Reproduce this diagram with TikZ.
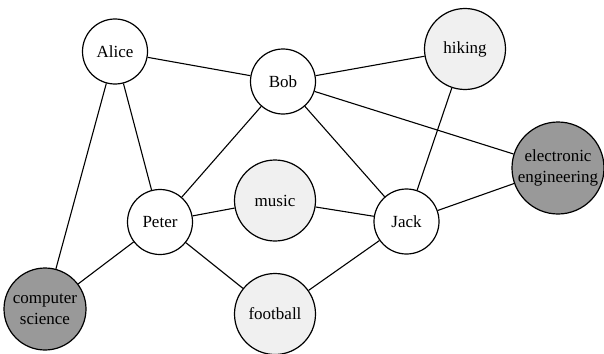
\documentclass[tikz,border=0pt]{standalone}
\usepackage{fontspec}
\setmainfont{Liberation Serif}
\begin{document}
\begin{tikzpicture}[x=1pt,y=-1pt,
  base/.style={circle,draw=black,line width=1.2pt,inner sep=0pt,align=center,
    font=\rmfamily\fontsize{17}{21}\selectfont},
  person/.style={base,fill=white,minimum size=65pt},
  hobby/.style={base,fill=black!6,minimum size=81pt},
  field/.style={base,fill=black!40,minimum size=82pt},
  link/.style={line width=1.1pt}]
\useasboundingbox (0,0) rectangle (604,353);
\node[person] (alice) at (115,51.5) {Alice};
\node[person] (bob) at (283,81.5) {Bob};
\node[hobby] (hiking) at (465,49) {hiking};
\node[field,minimum size=92pt] (ee) at (558,168) {electronic\\engineering};
\node[person] (peter) at (160,222) {Peter};
\node[hobby] (music) at (275,200.5) {music};
\node[person] (jack) at (406.5,221.5) {Jack};
\node[field] (cs) at (45,309) {computer\\science};
\node[hobby] (football) at (275,314) {football};
\draw[link] (alice) -- (bob);
\draw[link] (alice) -- (peter);
\draw[link] (alice) -- (cs);
\draw[link] (bob) -- (hiking);
\draw[link] (bob) -- (ee);
\draw[link] (bob) -- (peter);
\draw[link] (bob) -- (jack);
\draw[link] (hiking) -- (jack);
\draw[link] (peter) -- (music);
\draw[link] (peter) -- (cs);
\draw[link] (peter) -- (football);
\draw[link] (music) -- (jack);
\draw[link] (jack) -- (ee);
\draw[link] (jack) -- (football);
\end{tikzpicture}
\end{document}
